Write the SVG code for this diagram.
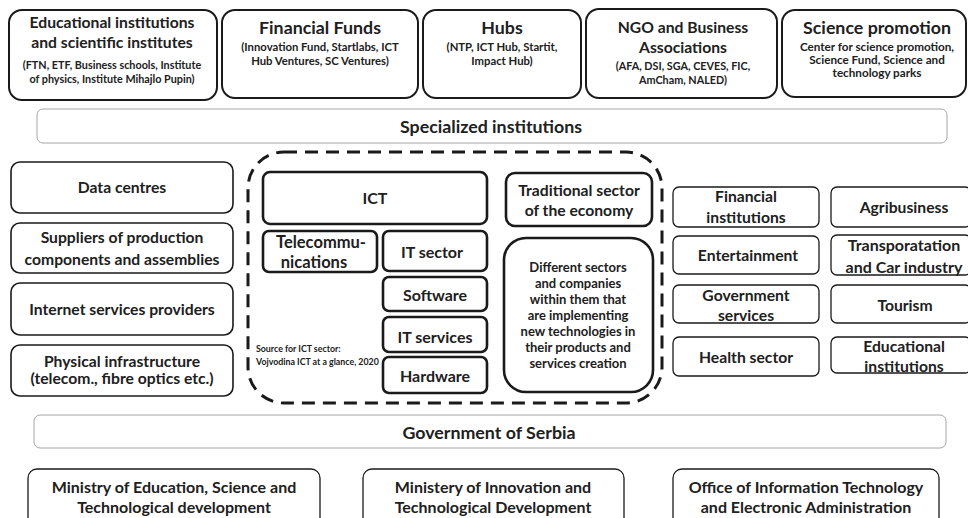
<svg xmlns="http://www.w3.org/2000/svg" width="968" height="518" viewBox="0 0 968 518">
<style>
text{font-family:Lato,"Open Sans","Liberation Sans",sans-serif;font-weight:bold;fill:#202020;text-anchor:middle}
.top{fill:#fff;stroke:#1a1a1a;stroke-width:2}
.left{fill:#fff;stroke:#1a1a1a;stroke-width:1.6}
.ict{fill:#fff;stroke:#1a1a1a;stroke-width:2.6}
.right{fill:#fff;stroke:#1a1a1a;stroke-width:1.3}
.bar{fill:#fff;stroke:#a6a6a6;stroke-width:1}
.min{fill:#fff;stroke:#1a1a1a;stroke-width:1.3}
.t1{font-size:15.7px}
.t2{font-size:17.8px}
.s1{font-size:10.8px}
.s2{font-size:11.3px}
.s3{font-size:11.7px}
.n{font-size:15.7px}
.k{font-size:16px}
.tc{font-size:16.5px}
.b{font-size:17.8px}
.m{font-size:16px}
.src{font-size:8.8px;text-anchor:start}
.d{font-size:13px}
</style>
<rect width="968" height="518" fill="#fff"/>

<g id="top-educational">
<rect class="top" x="9" y="10" width="208" height="90" rx="13"/>
<text class="t1" x="112" y="28">Educational institutions</text>
<text class="t1" x="112" y="48">and scientific institutes</text>
<text class="s1" x="112" y="69">(FTN, ETF, Business schools, Institute</text>
<text class="s1" x="112" y="83">of physics, Institute Mihajlo Pupin)</text>
</g>
<g id="top-funds">
<rect class="top" x="222" y="10" width="196" height="88" rx="13"/>
<text class="t2" x="320" y="34">Financial Funds</text>
<text class="s2" x="320" y="51">(Innovation Fund, Startlabs, ICT</text>
<text class="s2" x="320" y="65">Hub Ventures, SC Ventures)</text>
</g>
<g id="top-hubs">
<rect class="top" x="423" y="10" width="158" height="88" rx="13"/>
<text class="t2" x="502" y="34">Hubs</text>
<text class="s2" x="502" y="51">(NTP, ICT Hub, Startit,</text>
<text class="s2" x="502" y="65">Impact Hub)</text>
</g>
<g id="top-ngo">
<rect class="top" x="586" y="9" width="191" height="89" rx="13"/>
<text class="t1" x="683" y="33">NGO and Business</text>
<text class="t1" x="683" y="53">Associations</text>
<text class="s1" x="683" y="70">(AFA, DSI, SGA, CEVES, FIC,</text>
<text class="s1" x="683" y="84">AmCham, NALED)</text>
</g>
<g id="top-science">
<rect class="top" x="782" y="10" width="184" height="87" rx="13"/>
<text class="t2" x="877" y="34">Science promotion</text>
<text class="s3" x="877" y="51">Center for science promotion,</text>
<text class="s3" x="877" y="64">Science Fund, Science and</text>
<text class="s3" x="877" y="77">technology parks</text>
</g>

<g id="specialized">
<rect class="bar" x="37" y="109" width="910" height="34" rx="6"/>
<text class="b" x="491" y="133">Specialized institutions</text>
</g>

<g id="boundary">
<rect x="248" y="152" width="414" height="251" rx="36" fill="none" stroke="#1a1a1a" stroke-width="3" stroke-dasharray="13 8"/>
<text class="src" x="256" y="352">Source for ICT sector:</text>
<text class="src" x="256" y="365">Vojvodina ICT at a glance, 2020</text>
</g>

<g id="data-centres">
<rect class="left" x="11" y="162" width="222" height="51" rx="9"/>
<text class="n" x="122" y="193">Data centres</text>
</g>
<g id="suppliers">
<rect class="left" x="11" y="223" width="222" height="50" rx="9"/>
<text class="n" x="122" y="243">Suppliers of production</text>
<text class="n" x="122" y="265">components and assemblies</text>
</g>
<g id="isp">
<rect class="left" x="11" y="283" width="222" height="52" rx="9"/>
<text class="n" x="122" y="315">Internet services providers</text>
</g>
<g id="physical">
<rect class="left" x="11" y="345" width="222" height="51" rx="9"/>
<text class="n" x="122" y="367">Physical infrastructure</text>
<text class="n" x="122" y="384">(telecom., fibre optics etc.)</text>
</g>

<g id="ict">
<rect class="ict" x="263" y="172" width="224" height="52" rx="7"/>
<text class="k" x="375" y="204">ICT</text>
</g>
<g id="traditional">
<rect class="ict" x="506" y="173" width="146" height="53" rx="9"/>
<text class="n" x="579" y="196">Traditional sector</text>
<text class="n" x="579" y="216">of the economy</text>
</g>
<g id="telecom">
<rect class="ict" x="263" y="231" width="114" height="41" rx="6"/>
<text class="tc" x="321" y="248">Telecommu-</text>
<text class="tc" x="314" y="268">nications</text>
</g>
<g id="it-sector">
<rect class="ict" x="383" y="231" width="104" height="40" rx="6"/>
<text class="k" x="432" y="258">IT sector</text>
</g>
<g id="software">
<rect class="ict" x="383" y="277" width="104" height="34" rx="6"/>
<text class="k" x="435" y="301">Software</text>
</g>
<g id="it-services">
<rect class="ict" x="383" y="317" width="104" height="35" rx="6"/>
<text class="k" x="435" y="343">IT services</text>
</g>
<g id="hardware">
<rect class="ict" x="383" y="357" width="104" height="36" rx="6"/>
<text class="k" x="435" y="382">Hardware</text>
</g>
<g id="different">
<rect class="ict" x="504" y="238" width="149" height="154" rx="22"/>
<text class="d" x="578" y="272">Different sectors</text>
<text class="d" x="578" y="288">and companies</text>
<text class="d" x="578" y="304">within them that</text>
<text class="d" x="578" y="320">are implementing</text>
<text class="d" x="578" y="336">new technologies in</text>
<text class="d" x="578" y="352">their products and</text>
<text class="d" x="578" y="368">services creation</text>
</g>

<g id="financial-inst">
<rect class="right" x="673" y="187" width="146" height="40" rx="6"/>
<text class="n" x="746" y="202">Financial</text>
<text class="n" x="746" y="223">institutions</text>
</g>
<g id="agribusiness">
<rect class="right" x="831" y="187" width="140" height="40" rx="6"/>
<text class="n" x="904" y="213">Agribusiness</text>
</g>
<g id="entertainment">
<rect class="right" x="673" y="236" width="146" height="38" rx="6"/>
<text class="n" x="748" y="261">Entertainment</text>
</g>
<g id="transport">
<rect class="right" x="831" y="235" width="140" height="40" rx="6"/>
<text class="k" x="904" y="251">Transporatation</text>
<text class="k" x="904" y="273">and Car industry</text>
</g>
<g id="gov-services">
<rect class="right" x="673" y="285" width="146" height="38" rx="6"/>
<text class="n" x="746" y="301">Government</text>
<text class="n" x="746" y="321">services</text>
</g>
<g id="tourism">
<rect class="right" x="831" y="285" width="140" height="38" rx="6"/>
<text class="n" x="905" y="311">Tourism</text>
</g>
<g id="health">
<rect class="right" x="673" y="337" width="146" height="39" rx="6"/>
<text class="n" x="746" y="363">Health sector</text>
</g>
<g id="edu-inst">
<rect class="right" x="831" y="337" width="140" height="36" rx="6"/>
<text class="n" x="904" y="352">Educational</text>
<text class="n" x="904" y="372">institutions</text>
</g>

<g id="government">
<rect class="bar" x="34" y="415" width="912" height="33" rx="6"/>
<text class="b" x="489" y="439">Government of Serbia</text>
</g>
<g id="ministry-education">
<rect class="min" x="28" y="469" width="292" height="60" rx="9"/>
<text class="m" x="174" y="493">Ministry of Education, Science and</text>
<text class="m" x="174" y="513">Technological development</text>
</g>
<g id="ministry-innovation">
<rect class="min" x="363" y="469" width="261" height="60" rx="9"/>
<text class="m" x="493" y="493">Ministery of Innovation and</text>
<text class="m" x="493" y="513">Technological Development</text>
</g>
<g id="office-it">
<rect class="min" x="673" y="469" width="266" height="60" rx="9"/>
<text class="m" x="806" y="493">Office of Information Technology</text>
<text class="m" x="806" y="513">and Electronic Administration</text>
</g>
</svg>
